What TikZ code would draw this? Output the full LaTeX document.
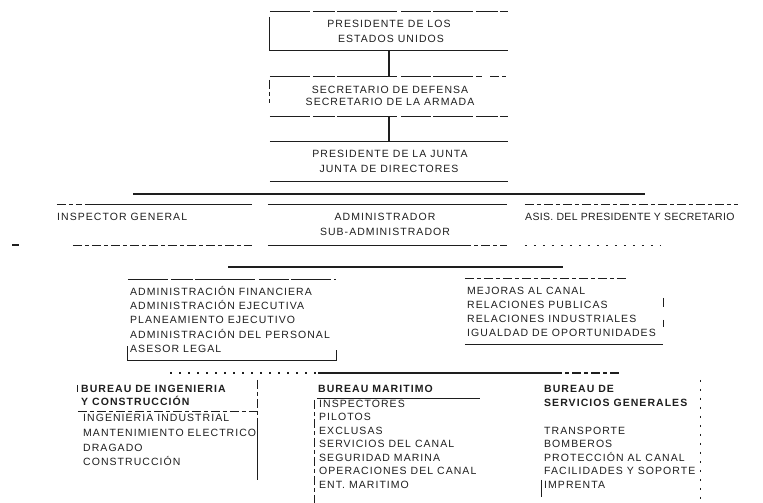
\documentclass[tikz,border=0pt]{standalone}
\usepackage{fontspec}
\newfontfamily\orgfont{Liberation Sans}[LetterSpace=10]
\newfontfamily\orgfontn{Liberation Sans}[LetterSpace=3]
\definecolor{ink}{HTML}{1E1E1E}
\tikzset{
  txt/.style={inner sep=0pt, anchor=base west, text=ink, font=\orgfont\fontsize{10.5}{12}\selectfont},
  ntxt/.style={txt, font=\orgfontn\fontsize{10.5}{12}\selectfont},
  ctxt/.style={txt, anchor=base},
  hd/.style={txt, font=\orgfont\bfseries\fontsize{10.5}{12}\selectfont},
  frame/.style={rectangle, inner sep=0pt, draw=none},
  rule/.style={draw=ink, line width=1.25pt},
  brk/.style={rule, dash pattern=on 40pt off 3pt on 22pt off 2pt on 60pt off 4pt on 30pt off 2pt},
  dsh/.style={rule, dash pattern=on 9pt off 3pt on 4pt off 3pt},
  dotted line/.style={rule, dash pattern=on 2pt off 7pt},
}
\begin{document}
\begin{tikzpicture}[x=1pt,y=-1pt]
\useasboundingbox (0,0) rectangle (763,503);

% ---------- frames (invisible named boxes) ----------
\node[frame, minimum width=238pt, minimum height=38pt] (b1) at (389,31) {};
\node[frame, minimum width=238pt, minimum height=39pt] (b2) at (389,96.5) {};
\node[frame, minimum width=238pt, minimum height=39pt] (b3) at (389,161.5) {};
\node[frame, minimum width=195pt, minimum height=40pt] (insp) at (154.5,225) {};
\node[frame, minimum width=239pt, minimum height=40pt] (adm) at (387.5,225) {};
\node[frame, minimum width=213pt, minimum height=40pt] (asis) at (631.5,225) {};
\node[frame, minimum width=208pt, minimum height=80pt] (fin) at (232,320) {};
\node[frame, minimum width=198pt, minimum height=65pt] (mej) at (564,311.5) {};
\node[frame, minimum width=179pt, minimum height=100pt] (ing) at (167.5,430) {};
\node[frame, minimum width=165pt, minimum height=130pt] (mar) at (397.5,438) {};
\node[frame, minimum width=158pt, minimum height=123pt] (ser) at (621,441.5) {};

% bus coordinates
\coordinate (busAw) at (133,194); \coordinate (busAe) at (645,194);
\coordinate (busBw) at (228,267); \coordinate (busBe) at (563,267);
\coordinate (busCw) at (170,373); \coordinate (busCm) at (318,373);
\coordinate (busCn) at (553,373); \coordinate (busCe) at (620,373);
\coordinate (strayW) at (12,245); \coordinate (strayE) at (19,245);

% ---------- top column ----------
\draw[brk] (b1.north west) -- (b1.north east);
\draw[rule] ([yshift=-5pt]b1.north west) -- (b1.south west) -- (b1.south east);
\draw[rule] (b1.south) -- (b2.north);
\draw[brk] (b2.north west) -- ([xshift=-26pt]b2.north east);
\draw[dsh] ([xshift=-18pt]b2.north east) -- (b2.north east);
\draw[dsh] ([yshift=-3pt]b2.north west) -- ([yshift=13pt]b2.south west);
\draw[brk] (b2.south west) -- (b2.south east);
\draw[rule] (b2.south) -- (b3.north);
\draw[rule] (b3.north west) -- (b3.north east);
\draw[rule] (b3.south west) -- (b3.south east);

% ---------- second row ----------
\draw[rule] (busAw) -- (busAe);
\draw[dsh] (insp.north west) -- ([xshift=25pt]insp.north west);
\draw[rule] ([xshift=28pt]insp.north west) -- (insp.north east);
\draw[dsh] ([xshift=16pt]insp.south west) -- (insp.south east);
\draw[rule] (strayW) -- (strayE);
\draw[rule] (adm.north west) -- (adm.north east);
\draw[rule] (adm.south west) -- ([xshift=-45pt]adm.south east);
\draw[dsh] ([xshift=-45pt]adm.south east) -- (adm.south east);
\draw[dsh] (asis.north west) -- (asis.north east);
\draw[dotted line] (asis.south west) -- ([xshift=-78pt]asis.south east);

% ---------- third row ----------
\draw[rule] (busBw) -- (busBe);
\draw[brk] (fin.north west) -- (fin.north east);
\draw[rule] ([yshift=14pt]fin.south west) -- (fin.south west) -- (fin.south east) -- ([yshift=10pt]fin.south east);
\draw[dsh] (mej.north west) -- ([xshift=-35pt]mej.north east);
\draw[rule] (mej.south west) -- (mej.south east);
\draw[rule] ([yshift=-19pt]mej.north east) -- ([yshift=-28pt]mej.north east);
\draw[rule] ([yshift=-41pt]mej.north east) -- ([yshift=-48pt]mej.north east);

% ---------- fourth row ----------
\draw[dotted line] (busCw) -- (busCm);
\draw[rule] (busCm) -- (busCn);
\draw[dsh] (busCn) -- (busCe);
\draw[dsh] (ing.north east) -- ([yshift=-40pt]ing.north east);
\draw[rule] ([yshift=-40pt]ing.north east) -- (ing.south east);
\draw[rule] ([yshift=-5pt]ing.north west) -- ([yshift=-12pt]ing.north west);
\draw[dsh] ([yshift=-32pt]ing.north west) -- ([yshift=-32pt]ing.north east);
\draw[dsh] ([yshift=-27pt]mar.north west) -- (mar.south west);
\draw[rule] ([shift={(2pt,-26pt)}]mar.north west) -- ([yshift=-26pt]mar.north east);
\draw[rule] ([yshift=-100pt]ser.north west) -- ([yshift=-117pt]ser.north west);
\draw[dotted line] (ser.north east) -- (ser.south east);

% ---------- texts ----------
\node[ctxt] (t1a) at (389,28) {PRESIDENTE DE LOS};
\node[ctxt] (t1b) at (391,43) {ESTADOS UNIDOS};
\node[ctxt] (t2a) at (390,93) {SECRETARIO DE DEFENSA};
\node[ctxt] (t2b) at (390,105) {SECRETARIO DE LA ARMADA};
\node[ctxt] (t3a) at (390,157) {PRESIDENTE DE LA JUNTA};
\node[ctxt] (t3b) at (389,172) {JUNTA DE DIRECTORES};

\node[txt] (ig) at (57,220) {INSPECTOR GENERAL};
\node[ctxt] (ad1) at (385,220) {ADMINISTRADOR};
\node[ctxt] (ad2) at (385,235) {SUB-ADMINISTRADOR};
\node[ntxt] (as) at (525,220) {ASIS. DEL PRESIDENTE Y SECRETARIO};

\node[txt] (f1) at (130,295) {ADMINISTRACIÓN FINANCIERA};
\node[txt] (f2) at (130,309) {ADMINISTRACIÓN EJECUTIVA};
\node[txt] (f3) at (130,323) {PLANEAMIENTO EJECUTIVO};
\node[txt] (f4) at (130,338) {ADMINISTRACIÓN DEL PERSONAL};
\node[txt] (f5) at (130,352) {ASESOR LEGAL};

\node[txt] (m1) at (467,294) {MEJORAS AL CANAL};
\node[txt] (m2) at (467,308) {RELACIONES PUBLICAS};
\node[txt] (m3) at (467,322) {RELACIONES INDUSTRIALES};
\node[txt] (m4) at (467,336) {IGUALDAD DE OPORTUNIDADES};

\node[hd] (i0) at (81,392) {BUREAU DE INGENIERIA};
\node[hd] (i1) at (81,405) {Y CONSTRUCCIÓN};
\node[txt] (i2) at (83,421) {INGENIERIA INDUSTRIAL};
\node[txt] (i3) at (83,436) {MANTENIMIENTO ELECTRICO};
\node[txt] (i4) at (83,451) {DRAGADO};
\node[txt] (i5) at (83,465) {CONSTRUCCIÓN};

\node[hd] (r0) at (318,392) {BUREAU MARITIMO};
\node[txt] (r1) at (319,407) {INSPECTORES};
\node[txt] (r2) at (319,420.5) {PILOTOS};
\node[txt] (r3) at (319,434) {EXCLUSAS};
\node[txt] (r4) at (319,447.5) {SERVICIOS DEL CANAL};
\node[txt] (r5) at (319,461) {SEGURIDAD MARINA};
\node[txt] (r6) at (319,474.5) {OPERACIONES DEL CANAL};
\node[txt] (r7) at (319,488) {ENT. MARITIMO};

\node[hd] (s0) at (544,392) {BUREAU DE};
\node[hd] (s1) at (544,406) {SERVICIOS GENERALES};
\node[txt] (s2) at (544,434) {TRANSPORTE};
\node[txt] (s3) at (544,447.5) {BOMBEROS};
\node[txt] (s4) at (544,461) {PROTECCIÓN AL CANAL};
\node[txt] (s5) at (544,474.5) {FACILIDADES Y SOPORTE};
\node[txt] (s6) at (544,488) {IMPRENTA};
\end{tikzpicture}
\end{document}
